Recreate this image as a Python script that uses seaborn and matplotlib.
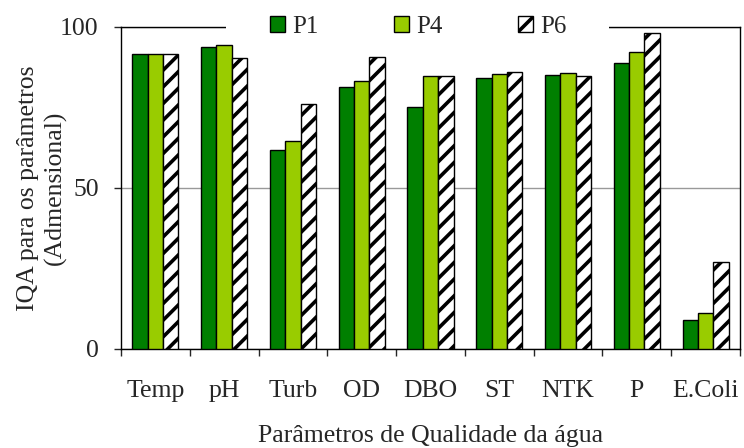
import numpy as np
import pandas as pd
import matplotlib
matplotlib.use('Agg')
import matplotlib.pyplot as plt
import seaborn as sns
from matplotlib.patches import Patch, Rectangle

# data
parametros = ['Temp', 'pH', 'Turb', 'OD', 'DBO', 'ST', 'NTK', 'P', 'E.Coli']
p1 = [91.5, 93.7, 61.7, 81.3, 75.1, 84.2, 85.0, 88.7, 9.0]
p4 = [91.5, 94.3, 64.7, 83.2, 84.9, 85.5, 85.8, 92.3, 11.3]
p6 = [91.5, 90.2, 76.0, 90.6, 84.6, 85.9, 84.9, 98.0, 26.9]
pontos = ['P1', 'P4', 'P6']
cores = ['#007F00', '#99CC00', '#FFFFFF']

df = pd.DataFrame({'Parametro': parametros, 'P1': p1, 'P4': p4, 'P6': p6})
df = df.melt(id_vars='Parametro', var_name='Ponto', value_name='IQA')

sns.set_style('white')
plt.rcParams['font.family'] = ['Liberation Serif', 'DejaVu Serif']
plt.rcParams['hatch.linewidth'] = 2.6
plt.rcParams['hatch.color'] = '#333333'

fs = 18.5

fig = plt.figure(figsize=(7.44, 4.48), dpi=100)
ax = fig.add_axes([0.1626, 0.221, 0.832, 0.719])

sns.barplot(data=df, x='Parametro', y='IQA', hue='Ponto', hue_order=pontos,
            palette=cores, width=0.67, edgecolor='black', linewidth=1.0,
            saturation=1, ax=ax, legend=False, zorder=3)

# hatch the P6 bars
for bar in ax.containers[2]:
    bar.set_hatch('//')

ax.set_ylim(0, 100)
ax.set_yticks([0, 50, 100])
ax.set_xlim(-0.5, len(parametros) - 0.5)
ax.yaxis.grid(True, color='#999999', linewidth=1.0, zorder=0)
ax.xaxis.grid(False)

# ticks between categories
ax.set_xticks(np.arange(-0.5, len(parametros) - 0.4, 1), minor=True)
ax.tick_params(axis='x', which='minor', length=5, width=1, direction='out', bottom=True)
ax.tick_params(axis='x', which='major', length=0, labelsize=fs, pad=22)
ax.tick_params(axis='y', length=5, width=1, direction='out', left=True, labelsize=fs, pad=11)

for s in ax.spines.values():
    s.set_color('black')
    s.set_linewidth(1.0)

ax.set_xlabel('Parâmetros de Qualidade da água', fontsize=fs, labelpad=17)
ax.set_ylabel('IQA para os parâmetros\n(Admensional)', fontsize=fs, linespacing=1.3)
ax.yaxis.set_label_coords(-0.087, 0.5)

# white strip hiding the top frame behind the legend
ax.add_patch(Rectangle((0.170, 0.96), 0.618, 0.08, transform=ax.transAxes,
                       facecolor='white', edgecolor='none', clip_on=False, zorder=4))

handles = [Patch(facecolor=cores[0], edgecolor='black', label='P1'),
           Patch(facecolor=cores[1], edgecolor='black', label='P4'),
           Patch(facecolor=cores[2], edgecolor='black', hatch='//', label='P6')]
leg = ax.legend(handles=handles, ncol=3, loc='center', bbox_to_anchor=(0.480, 1.0),
                frameon=False, fontsize=18, handlelength=0.62, handleheight=0.62,
                handletextpad=0.28, columnspacing=3.0, borderpad=0.0)
leg.set_zorder(10)

fig.savefig('out.png', dpi=100)
